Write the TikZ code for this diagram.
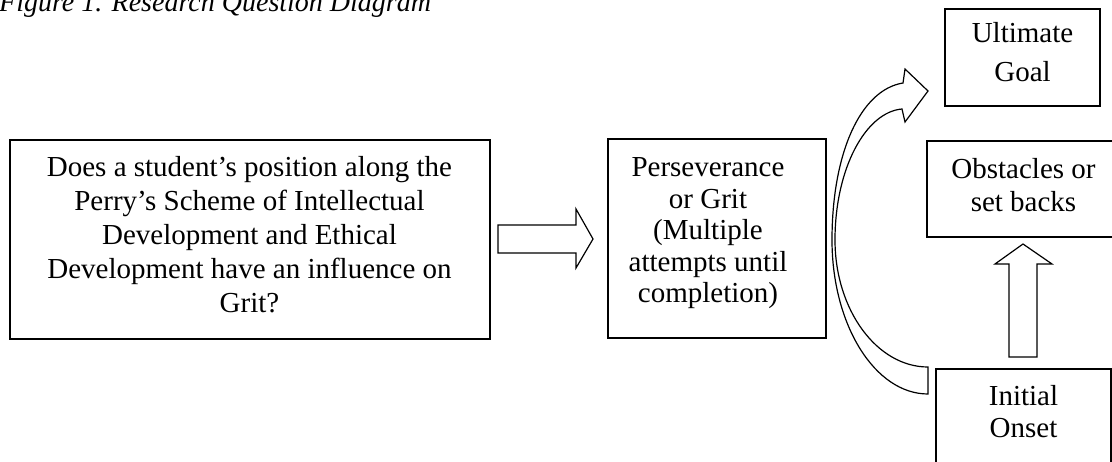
\documentclass[tikz,border=0pt]{standalone}
\usepackage{fontspec}
\setmainfont{Liberation Serif}
\tikzset{
  boxframe/.style={draw, line width=1.4pt, inner sep=0pt},
  boxtext/.style={align=center, inner sep=0pt},
  blockarrow/.style={draw, line width=1.2pt, fill=white, line join=miter},
}
\begin{document}
\begin{tikzpicture}[x=1pt,y=-1pt]
\useasboundingbox (0,0) rectangle (1112,462);
\clip (0,0) rectangle (1112,462);

% title
\node[anchor=base west, inner sep=0pt, font=\fontsize{28}{33}\selectfont\itshape] (title) at (-1,12) {Figure 1. Research Question Diagram};

% boxes
\node[boxframe, minimum width=480pt, minimum height=199pt] (main) at (250,239.5) {};
\node[boxtext, font=\fontsize{29}{34}\selectfont] (maintext) at (249.5,234.5)
  {Does a student’s position along the\\Perry’s Scheme of Intellectual\\Development and Ethical\\Development have an influence on\\Grit?};

\node[boxframe, minimum width=218pt, minimum height=199pt] (pers) at (717,238.5) {};
\node[boxtext, font=\fontsize{29}{31.5}\selectfont] (perstext) at (708,233.5)
  {Perseverance\\or Grit\\(Multiple\\attempts until\\completion)};

\node[boxframe, minimum width=155pt, minimum height=97pt] (goal) at (1022.5,57.5) {};
\node[boxtext, font=\fontsize{29}{39}\selectfont] (goaltext) at (1022.5,52.5) {Ultimate\\Goal};

\node[boxframe, minimum width=193pt, minimum height=96pt] (obst) at (1023.5,189) {};
\node[boxtext, font=\fontsize{29}{33}\selectfont] (obsttext) at (1023.5,185.5) {Obstacles or\\set backs};

\node[boxframe, minimum width=175pt, minimum height=110pt] (init) at (1023.5,424) {};
\node[boxtext, font=\fontsize{29}{32}\selectfont] (inittext) at (1023.5,412) {Initial\\Onset};

% right block arrow
\draw[blockarrow] (498,225) -- (576,225) -- (576,209) -- (593,239) -- (576,268) -- (576,253) -- (498,253) -- cycle;

% up block arrow
\draw[blockarrow] (1009,357) -- (1009,264) -- (995,264) -- (1023,244) -- (1052,264) -- (1037,264) -- (1037,357) -- cycle;

% curved block arrow
\draw[blockarrow] (928,367) -- (928,394)
  .. controls (875,394) and (832,325) .. (832,240)
  .. controls (832,154) and (860,90) .. (903,83)
  -- (905,69) -- (928,91) -- (905,122) -- (902,109)
  .. controls (866,112) and (835,168) .. (835,240)
  .. controls (835,310) and (877,367) .. cycle;
\end{tikzpicture}
\end{document}
